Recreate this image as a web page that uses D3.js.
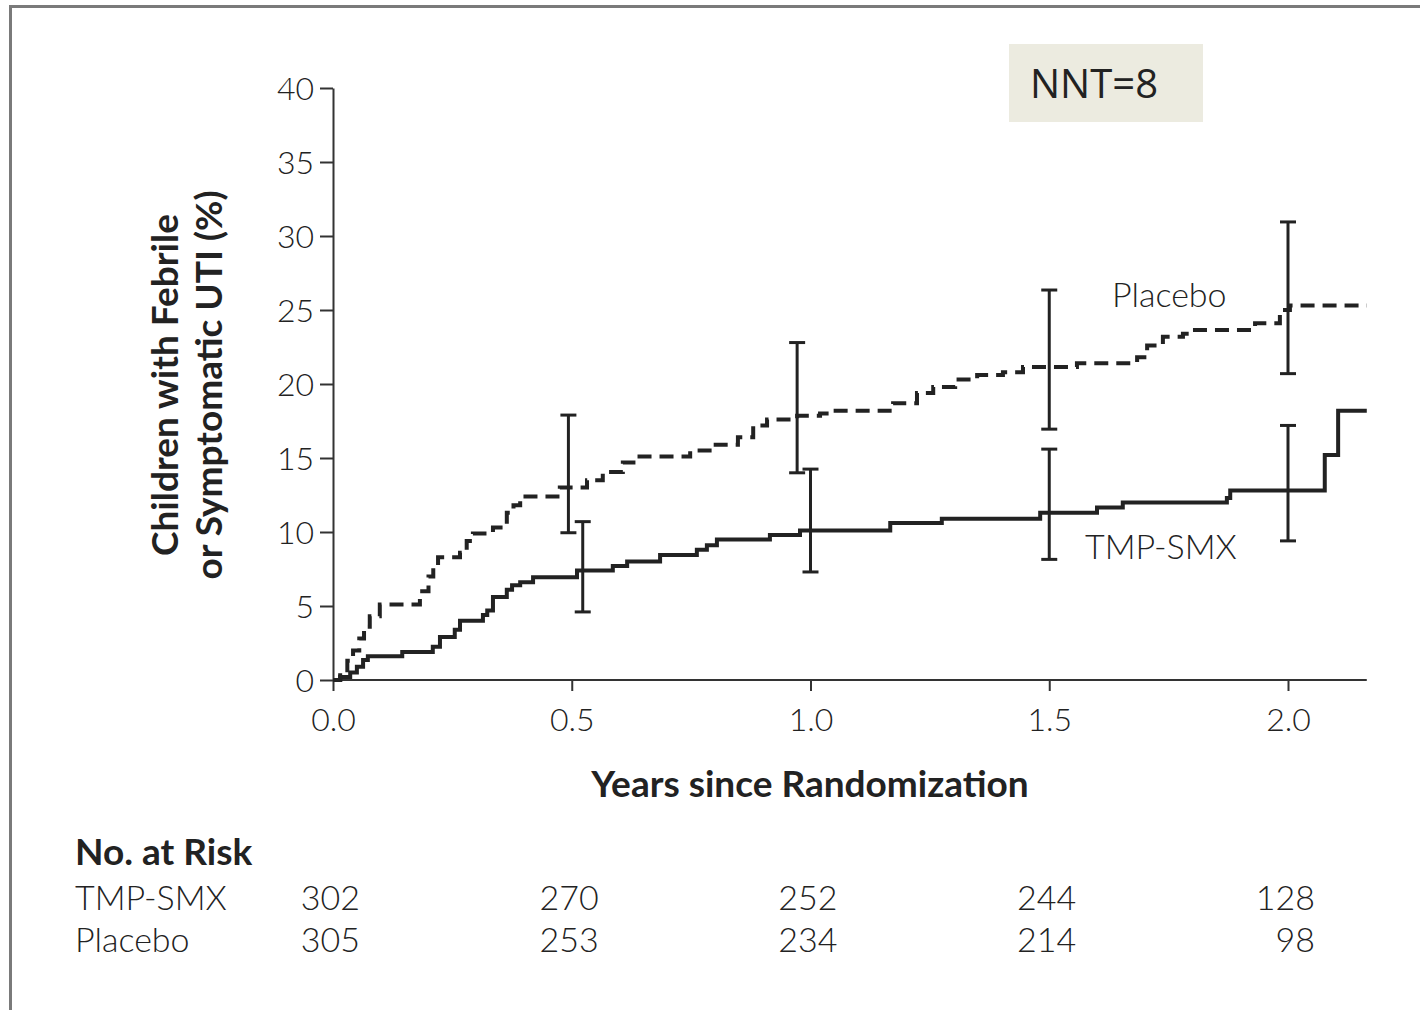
<!DOCTYPE html>
<html>
<head>
<meta charset="utf-8">
<script src="https://cdn.jsdelivr.net/npm/d3@7"></script>
<style>
  html, body { margin: 0; padding: 0; background: #fff; }
  svg { display: block; }
  text { fill: #222; }
</style>
</head>
<body>
<svg id="km" width="1420" height="1010"></svg>
<script>
// cumulative incidence (%) — each step holds from its time onward
const placeboTimes = [0, 0.015, 0.03, 0.042, 0.055, 0.065, 0.077, 0.098, 0.182, 0.2, 0.21, 0.22, 0.266, 0.28, 0.293, 0.335, 0.364, 0.378, 0.392, 0.475, 0.532, 0.565, 0.607, 0.637, 0.748, 0.796, 0.848, 0.88, 0.909, 0.972, 1.02, 1.047, 1.173, 1.223, 1.257, 1.303, 1.349, 1.403, 1.445, 1.558, 1.684, 1.705, 1.738, 1.78, 1.80, 1.931, 1.983, 2.004];
const placeboValues = [0, 0.5, 1.3, 2.0, 2.8, 3.6, 4.3, 5.1, 6.0, 7.0, 7.6, 8.3, 8.6, 9.4, 9.9, 10.3, 11.3, 11.8, 12.4, 13.0, 13.5, 14.05, 14.7, 15.1, 15.5, 15.9, 16.4, 17.2, 17.6, 17.85, 18.0, 18.2, 18.7, 19.4, 19.8, 20.3, 20.6, 20.8, 21.15, 21.4, 21.8, 22.6, 23.2, 23.4, 23.65, 24.1, 25.0, 25.3];
const tmpTimes = [0, 0.015, 0.036, 0.05, 0.063, 0.073, 0.145, 0.209, 0.224, 0.255, 0.266, 0.314, 0.323, 0.335, 0.364, 0.375, 0.392, 0.419, 0.511, 0.586, 0.616, 0.685, 0.762, 0.783, 0.804, 0.915, 0.978, 1.167, 1.275, 1.481, 1.6, 1.654, 1.872, 1.879, 2.077, 2.105];
const tmpValues = [0, 0.2, 0.5, 0.9, 1.35, 1.6, 1.9, 2.25, 2.9, 3.4, 4.0, 4.4, 4.7, 5.6, 6.1, 6.4, 6.6, 6.95, 7.4, 7.7, 8.0, 8.45, 8.8, 9.1, 9.5, 9.8, 10.1, 10.6, 10.9, 11.3, 11.65, 12.0, 12.3, 12.8, 15.2, 18.2];
const followUpEnd = 2.165;

// 95% CI bars
const placeboCiTimes = [0.493, 0.972, 1.5, 2.0];
const placeboCiLow = [9.95, 14.0, 16.95, 20.7];
const placeboCiHigh = [17.9, 22.8, 26.35, 30.95];
const tmpCiTimes = [0.523, 1.0, 1.5, 2.0];
const tmpCiLow = [4.6, 7.3, 8.15, 9.4];
const tmpCiHigh = [10.7, 14.25, 15.6, 17.2];

const xTicks = [0, 0.5, 1.0, 1.5, 2.0];
const yTicks = [0, 5, 10, 15, 20, 25, 30, 35, 40];

const riskGroups = ["TMP-SMX", "Placebo"];
const riskTmp = [302, 270, 252, 244, 128];
const riskPlacebo = [305, 253, 234, 214, 98];

const svg = d3.select("#km");
const font = "Lato, 'Open Sans', sans-serif";

// outer frame (open at right and bottom like the cropped figure)
svg.append("path")
    .attr("d", "M10.5,1015 L10.5,6.5 L1425,6.5")
    .attr("fill", "none")
    .attr("stroke", "#7a7a7a")
    .attr("stroke-width", 3);

const x = d3.scaleLinear().domain([0, 2]).range([333, 1288]);
const y = d3.scaleLinear().domain([0, 40]).range([680, 88]);

// axes
const yAxis = svg.append("g")
    .attr("transform", "translate(333,0)")
    .call(d3.axisLeft(y).tickValues(yTicks).tickSize(13).tickPadding(6).tickSizeOuter(0));
const xAxis = svg.append("g")
    .attr("transform", "translate(0,680)")
    .call(d3.axisBottom(x).tickValues(xTicks).tickFormat(d3.format(".1f")).tickSize(11).tickPadding(17).tickSizeOuter(0));
xAxis.select(".domain").attr("d", "M" + x(0) + ",0H" + x(followUpEnd));

[xAxis, yAxis].forEach(g => {
    g.select(".domain").attr("stroke", "#333").attr("stroke-width", 2);
    g.selectAll(".tick line").attr("stroke", "#333").attr("stroke-width", 2);
    g.selectAll(".tick text")
        .style("font-family", font)
        .style("font-size", "32px")
        .style("font-weight", 300)
        .attr("fill", "#222");
});
yAxis.selectAll(".tick text").attr("dy", "0.36em");

// axis titles
svg.append("text")
    .attr("x", 810).attr("y", 797)
    .attr("text-anchor", "middle")
    .style("font-family", font).style("font-size", "37px").style("font-weight", "bold")
    .text("Years since Randomization");

const yTitle = svg.append("text")
    .attr("transform", "translate(0,385) rotate(-90)")
    .attr("text-anchor", "middle")
    .style("font-family", font).style("font-size", "37px").style("font-weight", "bold");
yTitle.append("tspan").attr("x", 0).attr("y", 178).text("Children with Febrile");
yTitle.append("tspan").attr("x", 0).attr("y", 222).text("or Symptomatic UTI (%)");

// step curves
const stepLine = d3.line()
    .x(d => x(d[0]))
    .y(d => y(d[1]))
    .curve(d3.curveStepAfter);

function stepData(times, values) {
    const pts = times.map((t, i) => [t, values[i]]);
    pts.push([followUpEnd, values[values.length - 1]]);
    return pts;
}

svg.append("path")
    .datum(stepData(tmpTimes, tmpValues))
    .attr("d", stepLine)
    .attr("fill", "none")
    .attr("stroke", "#222")
    .attr("stroke-width", 4);

svg.append("path")
    .datum(stepData(placeboTimes, placeboValues))
    .attr("d", stepLine)
    .attr("fill", "none")
    .attr("stroke", "#222")
    .attr("stroke-width", 4)
    .attr("stroke-dasharray", "14,8");

// confidence interval bars
function drawCi(times, low, high) {
    const g = svg.append("g").attr("stroke", "#222").attr("stroke-width", 3);
    times.forEach((t, i) => {
        const cx = x(t);
        g.append("line").attr("x1", cx).attr("x2", cx).attr("y1", y(low[i])).attr("y2", y(high[i]));
        g.append("line").attr("x1", cx - 8).attr("x2", cx + 8).attr("y1", y(low[i])).attr("y2", y(low[i]));
        g.append("line").attr("x1", cx - 8).attr("x2", cx + 8).attr("y1", y(high[i])).attr("y2", y(high[i]));
    });
}
drawCi(placeboCiTimes, placeboCiLow, placeboCiHigh);
drawCi(tmpCiTimes, tmpCiLow, tmpCiHigh);

// curve labels
svg.append("text")
    .attr("x", 1112).attr("y", 307)
    .style("font-family", font).style("font-size", "34px").style("font-weight", 300)
    .text("Placebo");
svg.append("text")
    .attr("x", 1085).attr("y", 559)
    .style("font-family", font).style("font-size", "34px").style("font-weight", 300)
    .text("TMP-SMX");

// number at risk table
svg.append("text")
    .attr("x", 75).attr("y", 865)
    .style("font-family", font).style("font-size", "37px").style("font-weight", "bold")
    .text("No. at Risk");

[riskTmp, riskPlacebo].forEach((row, r) => {
    const rowY = 910 + r * 42;
    svg.append("text")
        .attr("x", 75).attr("y", rowY)
        .style("font-family", font).style("font-size", "34px").style("font-weight", 300)
        .text(riskGroups[r]);
    svg.selectAll(null)
        .data(row)
        .enter()
        .append("text")
        .attr("x", (d, i) => x(xTicks[i]) + 27)
        .attr("y", rowY)
        .attr("text-anchor", "end")
        .style("font-family", font).style("font-size", "34px").style("font-weight", 300)
        .text(d => d);
});

// NNT callout
svg.append("rect")
    .attr("x", 1009).attr("y", 44)
    .attr("width", 194).attr("height", 78)
    .attr("fill", "#ecebe0");
svg.append("text")
    .attr("x", 1030).attr("y", 98)
    .style("font-family", "'Open Sans', sans-serif").style("font-size", "40px")
    .attr("fill", "#111")
    .text("NNT=8");
</script>
</body>
</html>
